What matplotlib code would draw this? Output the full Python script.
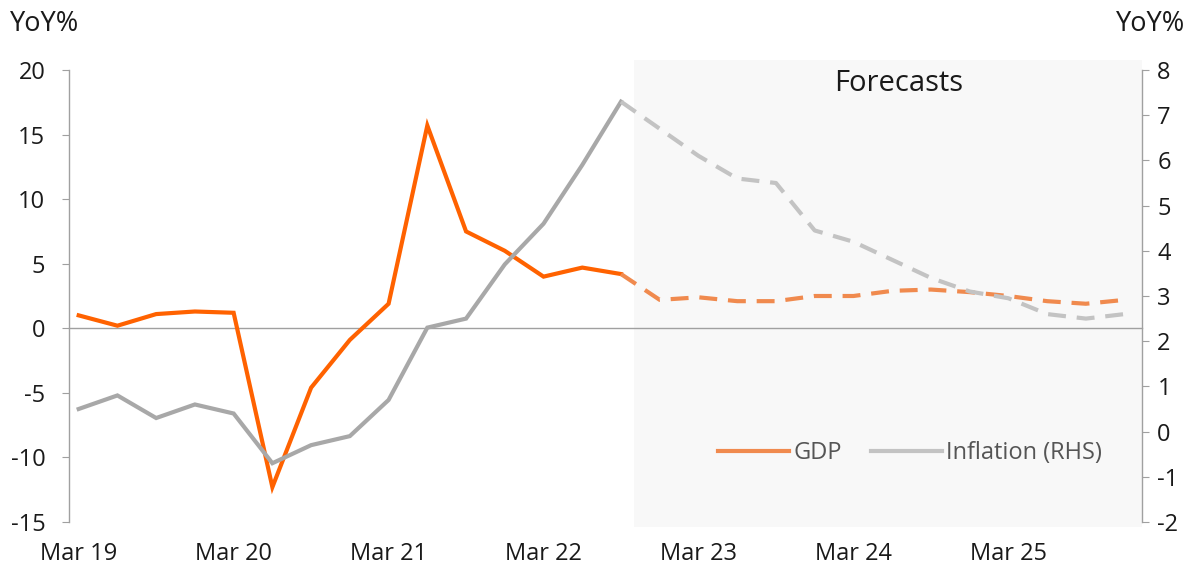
import matplotlib
matplotlib.use("Agg")
import matplotlib.pyplot as plt
from matplotlib.lines import Line2D
from matplotlib.patches import Rectangle
import matplotlib.transforms as mtransforms

plt.rcParams['font.family'] = ['Open Sans', 'DejaVu Sans']
plt.rcParams['axes.unicode_minus'] = False

# quarterly data, Mar 19 .. Dec 25
quarters = ['Mar 19', 'Jun 19', 'Sep 19', 'Dec 19',
            'Mar 20', 'Jun 20', 'Sep 20', 'Dec 20',
            'Mar 21', 'Jun 21', 'Sep 21', 'Dec 21',
            'Mar 22', 'Jun 22', 'Sep 22', 'Dec 22',
            'Mar 23', 'Jun 23', 'Sep 23', 'Dec 23',
            'Mar 24', 'Jun 24', 'Sep 24', 'Dec 24',
            'Mar 25', 'Jun 25', 'Sep 25', 'Dec 25']
gdp = [1.0, 0.2, 1.1, 1.3, 1.2, -12.3, -4.6, -0.9,
       1.9, 15.7, 7.5, 6.0, 4.0, 4.7, 4.2, 2.2,
       2.4, 2.1, 2.1, 2.5, 2.5, 2.9, 3.0, 2.8,
       2.5, 2.1, 1.9, 2.2]
inflation = [0.5, 0.8, 0.3, 0.6, 0.4, -0.7, -0.3, -0.1,
             0.7, 2.3, 2.5, 3.7, 4.6, 5.9, 7.3, 6.7,
             6.1, 5.6, 5.5, 4.45, 4.2, 3.8, 3.4, 3.1,
             2.95, 2.6, 2.5, 2.6]
last_actual = 14            # Sep 22, forecasts after that
forecast_start = 14.33
tick_labels = ['Mar 19', 'Mar 20', 'Mar 21', 'Mar 22', 'Mar 23', 'Mar 24', 'Mar 25']
legend_labels = ['GDP', 'Inflation (RHS)']

orange = '#FF6200'
orange_light = '#F08A4E'
grey = '#A8A8A8'
grey_light = '#C3C3C3'
axis_col = '#A0A0A0'
text_col = '#1a1a1a'

x = list(range(len(quarters)))

fig = plt.figure(figsize=(12, 5.67), dpi=100)
ax = fig.add_axes([0.0575, 0.0794, 0.8942, 0.7971])
ax2 = ax.twinx()

# forecast shading (a bit taller than the plot area)
trans = mtransforms.blended_transform_factory(ax.transData, ax.transAxes)
ax.add_patch(Rectangle((forecast_start, -0.011), 27.45 - forecast_start, 1.033,
                       transform=trans, facecolor='#F8F8F8', edgecolor='none',
                       clip_on=False, zorder=0))
ax.set_zorder(ax2.get_zorder() - 1)
ax.patch.set_visible(False)
ax2.patch.set_visible(False)

dash = (4.3, 2.6)
n = last_actual + 1
ax.plot(x[:n], gdp[:n], color=orange, lw=3, solid_joinstyle='miter', zorder=3)
ax.plot(x[last_actual:], gdp[last_actual:], color=orange_light, lw=3,
        dashes=dash, zorder=3)
ax2.plot(x[:n], inflation[:n], color=grey, lw=3, solid_joinstyle='miter')
ax2.plot(x[last_actual:], inflation[last_actual:], color=grey_light, lw=3,
         dashes=dash)

ax.set_xlim(-0.25, 27.45)
ax.set_ylim(-15, 20)
ax2.set_ylim(-2, 8)
ax.set_yticks(range(-15, 21, 5))
ax2.set_yticks(range(-2, 9, 1))

tick_pos = [quarters.index(t) for t in tick_labels]
ax.set_xticks(tick_pos)
ax.set_xticklabels(tick_labels)
ax.set_xticks(tick_pos[1:], minor=True)

for a in (ax, ax2):
    for s in a.spines.values():
        s.set_color(axis_col)
        s.set_linewidth(1)
    a.spines['top'].set_visible(False)
ax.spines['right'].set_visible(False)
ax2.spines['left'].set_visible(False)
ax2.spines['bottom'].set_visible(False)
ax.spines['bottom'].set_position(('data', 0))

ax.tick_params(axis='x', which='major', length=0, pad=154, labelsize=17,
               labelcolor=text_col)
ax.tick_params(axis='x', which='minor', length=6, color=axis_col)
ax.tick_params(axis='y', length=5, color=axis_col, pad=12, labelsize=17,
               labelcolor=text_col)
ax2.tick_params(axis='y', length=5, color=axis_col, pad=6, labelsize=17,
                labelcolor=text_col)

fig.text(0.008, 0.958, 'YoY%', fontsize=19.5, color=text_col, va='center', ha='left')
fig.text(0.988, 0.958, 'YoY%', fontsize=19.5, color=text_col, va='center', ha='right')
ax.text(0.773, 0.971, 'Forecasts', transform=ax.transAxes, fontsize=21,
        color=text_col, ha='center', va='center')

handles = [Line2D([], [], color=orange_light, lw=3),
           Line2D([], [], color=grey_light, lw=3)]
ax2.legend(handles, legend_labels, ncol=2, frameon=False, fontsize=17,
           loc='center', bbox_to_anchor=(0.784, 0.153), handlelength=3.0,
           handletextpad=0.2, columnspacing=1.2, labelcolor='#555555')

fig.savefig('out.png', dpi=100)
